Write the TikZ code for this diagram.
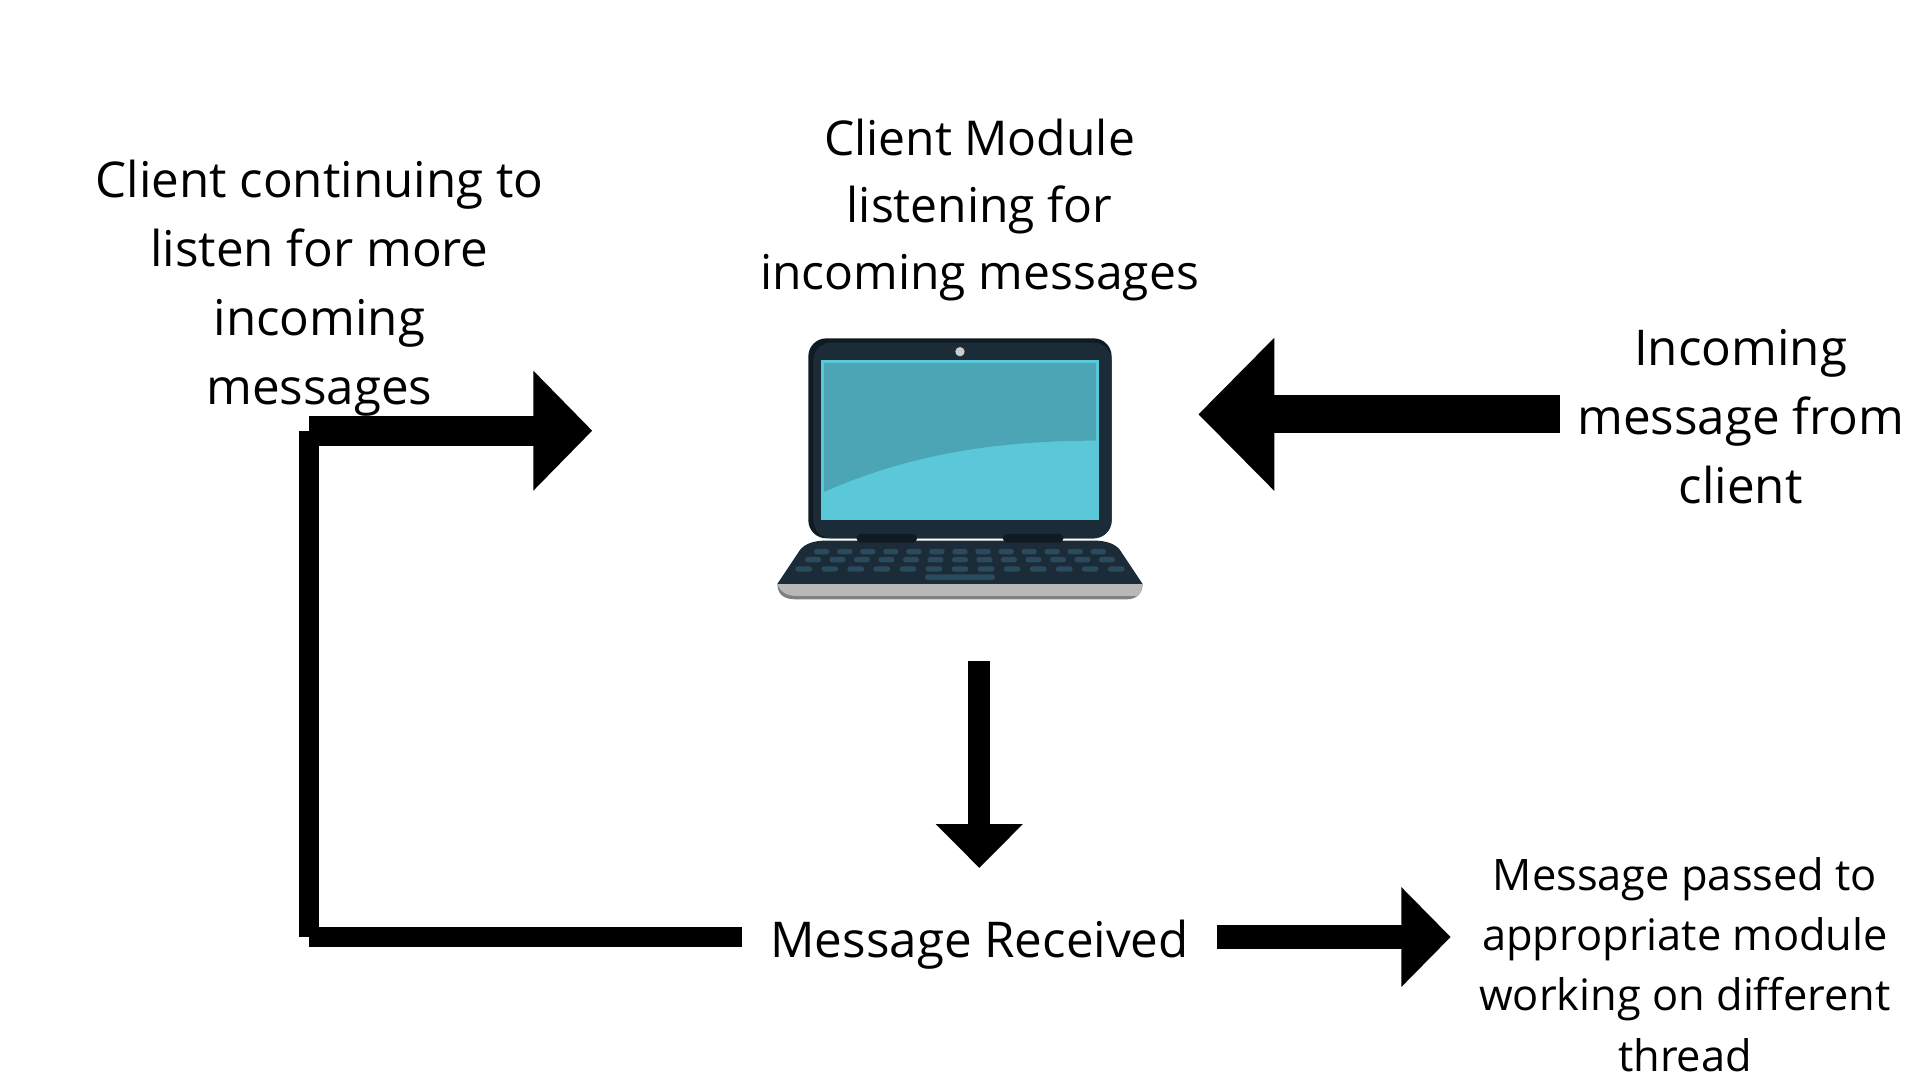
\documentclass[tikz,border=0pt]{standalone}
\usepackage{fontspec}
\setmainfont{Open Sans}
\usetikzlibrary{arrows.meta}
\definecolor{lidedge}{HTML}{0F1B22}
\definecolor{lidmain}{HTML}{1B2B38}
\definecolor{glass}{HTML}{5AC8D8}
\definecolor{glassdim}{HTML}{4BA5B5}
\definecolor{keycap}{HTML}{2A4A5E}
\definecolor{silver}{HTML}{B8B8B8}
\definecolor{silverdark}{HTML}{808080}
\definecolor{lens}{HTML}{CCCCCC}

\begin{document}
\begin{tikzpicture}[x=1pt, y=-1pt,
  titletext/.style={align=center, inner sep=0pt, font=\fontsize{48}{67.3}\selectfont},
  bigtext/.style={align=center, inner sep=0pt, font=\fontsize{49.3}{69}\selectfont},
  smalltext/.style={align=center, inner sep=0pt, font=\fontsize{43.4}{60.4}\selectfont},
  heavy/.style={line width=#1, draw=black}]
\useasboundingbox (0,0) rectangle (1920,1080);

\begin{scope}[shift={(750,320)}, x=0.3333pt, y=-0.3333pt]
    \fill[lidedge, rounded corners=18pt] (175,55) rectangle (1085,655);
    \fill[lidmain, rounded corners=18pt] (190,68) rectangle (1085,655);
    \fill[glass] (213,121) rectangle (1047,599);
    \fill[glassdim] (222,129) -- (1038,129) -- (1038,362) .. controls (700,362) and (450,415) .. (222,516) -- cycle;
    \fill[lens] (630,95) circle (14);
    \fill[silverdark] (82,792) .. controls (82,825) and (105,838) .. (135,838) -- (1130,838) .. controls (1160,838) and (1178,820) .. (1178,792) -- cycle;
    \fill[silver] (82,792) .. controls (90,815) and (110,828) .. (140,828) -- (1165,828) .. controls (1172,815) and (1178,805) .. (1178,792) -- cycle;
    \fill[lidmain] (82,792) -- (150,690) .. controls (165,670) and (195,662) .. (225,662) -- (1035,662) .. controls (1065,662) and (1095,670) .. (1110,690) -- (1178,792) -- cycle;
    \fill[lidedge, rounded corners=4pt] (320,642) rectangle (501,668);
    \fill[lidedge, rounded corners=4pt] (759,642) rectangle (940,668);
    \foreach \k in {0,...,12} {
        \fill[keycap, rounded corners=2.5pt] ({215+69.17*\k-23},687) rectangle ({215+69.17*\k+23},703);
        \fill[keycap, rounded corners=2.5pt] ({189+73.5*\k-24},711) rectangle ({189+73.5*\k+24},727);
        \fill[keycap, rounded corners=2.5pt] ({161+78.17*\k-25},739) rectangle ({161+78.17*\k+25},755);
    }
    \fill[keycap, rounded corners=2.5pt] (525,763) rectangle (735,780);
\end{scope}

\node[titletext] (title) at (979.6,210) {Client Module\\listening for\\incoming messages};
\node[bigtext] (loopnote) at (319.4,288.5) {Client continuing to\\listen for more\\incoming\\messages};
\node[bigtext] (incoming) at (1740.6,417) {Incoming\\message from\\client};
\node[bigtext, inner xsep=28pt] (received) at (979.6,945) {Message Received};
\node[smalltext] (handoff) at (1685,964.5) {Message passed to\\appropriate module\\working on different\\thread};

\coordinate (inbound) at (1560,414.3);
\coordinate (laptopright) at (1198.3,414.3);
\coordinate (laptopbelow) at (979.3,661);
\coordinate (receivedtop) at (979.3,868);
\coordinate (loopbottom) at (309.3,936.8);
\coordinate (looptop) at (309.3,430.7);
\coordinate (loopend) at (592.3,430.7);
\coordinate (handoffleft) at (1450.7,937);

\draw[heavy=38pt, -{Triangle[length=76pt, width=148.5pt]}] (inbound) -- (laptopright);
\draw[heavy=22pt, -{Triangle[length=44pt, width=84.5pt]}] (laptopbelow) -- (receivedtop);
\draw[heavy=24pt, -{Triangle[length=49.4pt, width=97pt]}] (received.east |- handoffleft) -- (handoffleft);
\draw[heavy=20pt] (received.west |- loopbottom) -- (loopbottom);
\draw[heavy=20pt] (loopbottom) -- (looptop);
\draw[heavy=30pt, -{Triangle[length=59pt, width=116.5pt]}] (looptop) -- (loopend);
\end{tikzpicture}
\end{document}
